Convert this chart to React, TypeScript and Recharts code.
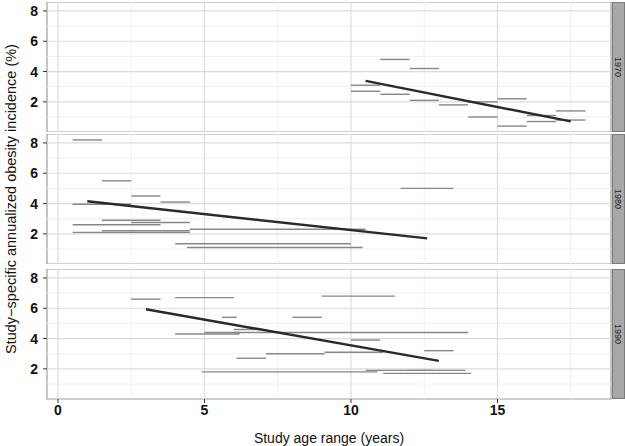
import React from "react";
import {
  ComposedChart,
  Line,
  XAxis,
  YAxis,
  ReferenceLine,
  ReferenceArea,
} from "recharts";

// study age ranges (start / end, years) and annualized incidence (%) per decade
const decades = ["1970", "1980", "1990"];

const starts1970 = [10, 10, 11, 11, 12, 12, 13, 14, 14, 15, 15, 16, 16, 17, 17];
const ends1970 = [11, 11, 12, 12, 13, 13, 14, 15, 15, 16, 16, 17, 17, 18, 18];
const incidence1970 = [3.1, 2.7, 4.8, 2.5, 4.2, 2.1, 1.8, 2.0, 1.0, 2.2, 0.4, 1.1, 0.7, 1.4, 0.8];

const starts1980 = [0.5, 1.5, 2.5, 3.5, 0.5, 1.5, 2.5, 0.5, 0.5, 1.5, 4.5, 4.0, 4.4, 11.7];
const ends1980 = [1.5, 2.5, 3.5, 4.5, 2.5, 3.5, 4.5, 3.5, 4.5, 4.5, 10.5, 10.0, 10.4, 13.5];
const incidence1980 = [8.2, 5.5, 4.5, 4.1, 3.95, 2.9, 2.75, 2.6, 2.1, 2.2, 2.3, 1.35, 1.1, 5.0];

const starts1990 = [2.5, 4.0, 9.0, 5.6, 8.0, 4.0, 5.0, 6.0, 6.0, 10.0, 12.5, 6.1, 7.1, 9.1, 4.9, 10.5, 11.9, 11.1];
const ends1990 = [3.5, 6.0, 11.5, 6.1, 9.0, 6.2, 6.2, 7.0, 14.0, 11.0, 13.5, 7.1, 9.1, 11.1, 10.9, 12.8, 13.9, 14.1];
const incidence1990 = [6.6, 6.7, 6.8, 5.4, 5.4, 4.3, 4.4, 4.6, 4.4, 3.9, 3.2, 2.7, 3.0, 3.1, 1.8, 1.9, 1.9, 1.7];

// fitted trend lines (age at ends, incidence at ends)
const fitAges = [[10.5, 17.5], [1.0, 12.6], [3.0, 13.0]];
const fitValues = [[3.38, 0.71], [4.15, 1.7], [5.93, 2.53]];

const xTicks = [0, 5, 10, 15];
const xMinor = [2.5, 7.5, 12.5, 17.5];
const yTicks = [2, 4, 6, 8];
const yMinor = [1, 3, 5, 7];

const X_DOMAIN: [number, number] = [-0.375, 18.875];
const Y_DOMAIN: [number, number] = [0.01, 8.59];

const allStarts = [starts1970, starts1980, starts1990];
const allEnds = [ends1970, ends1980, ends1990];
const allIncidence = [incidence1970, incidence1980, incidence1990];

const panelTops = [2, 134, 269];
const PLOT_H = 130;
const font = "'Liberation Sans', Arial, sans-serif";

function Panel({ idx }: { idx: number }) {
  const last = idx === decades.length - 1;
  const starts = allStarts[idx];
  const ends = allEnds[idx];
  const inc = allIncidence[idx];
  const fit = fitAges[idx].map((x, i) => ({ x, y: fitValues[idx][i] }));

  return (
    <div style={{ position: "absolute", left: 0, top: panelTops[idx] }}>
      <ComposedChart
        width={625}
        height={last ? PLOT_H + 47 : PLOT_H}
        margin={{ top: 0, right: 14, bottom: 0, left: 0 }}
      >
        <XAxis
          type="number"
          dataKey="x"
          domain={X_DOMAIN}
          allowDataOverflow
          ticks={xTicks}
          hide={!last}
          height={47}
          axisLine={false}
          tickSize={4}
          tickMargin={2}
          tickLine={{ stroke: "#333" }}
          tick={{ fill: "#111", fontSize: 14, fontWeight: "bold", fontFamily: font }}
          label={{
            value: "Study age range (years)",
            position: "insideBottom",
            offset: 3,
            style: { fill: "#111", fontSize: 14, fontFamily: font },
          }}
        />
        <YAxis
          type="number"
          domain={Y_DOMAIN}
          allowDataOverflow
          ticks={yTicks}
          width={47}
          axisLine={false}
          tickSize={4}
          tickMargin={5}
          tickLine={{ stroke: "#333" }}
          tick={{ fill: "#111", fontSize: 14, fontWeight: "bold", fontFamily: font }}
        />
        {yMinor.map((v) => (
          <ReferenceLine key={"ym" + v} y={v} stroke="#f0f0f0" strokeWidth={1} />
        ))}
        {xMinor.map((v) => (
          <ReferenceLine key={"xm" + v} x={v} stroke="#f0f0f0" strokeWidth={1} />
        ))}
        {yTicks.map((v) => (
          <ReferenceLine key={"yM" + v} y={v} stroke="#dcdcdc" strokeWidth={1.2} />
        ))}
        {xTicks.map((v) => (
          <ReferenceLine key={"xM" + v} x={v} stroke="#dcdcdc" strokeWidth={1.2} />
        ))}
        {starts.map((s, i) => (
          <Line
            key={"seg" + i}
            data={[
              { x: s, y: inc[i] },
              { x: ends[i], y: inc[i] },
            ]}
            dataKey="y"
            stroke="#878787"
            strokeWidth={1.4}
            dot={false}
            activeDot={false}
            isAnimationActive={false}
          />
        ))}
        <Line
          data={fit}
          dataKey="y"
          stroke="#2a2a2a"
          strokeWidth={2.4}
          dot={false}
          activeDot={false}
          isAnimationActive={false}
        />
        <ReferenceArea
          x1={X_DOMAIN[0]}
          x2={X_DOMAIN[1]}
          y1={Y_DOMAIN[0]}
          y2={Y_DOMAIN[1]}
          fill="none"
          stroke="#9e9e9e"
          strokeWidth={1.2}
        />
      </ComposedChart>
      <div
        style={{
          position: "absolute",
          left: 612,
          top: 0,
          width: 11,
          height: PLOT_H - 2,
          background: "#a8a8a8",
          border: "1px solid #7a7a7a",
          display: "flex",
          alignItems: "center",
          justifyContent: "center",
        }}
      >
        <span
          style={{
            transform: "rotate(90deg)",
            fontSize: 9,
            fontFamily: font,
            color: "#222",
            whiteSpace: "nowrap",
          }}
        >
          {decades[idx]}
        </span>
      </div>
    </div>
  );
}

export default function App() {
  return (
    <div
      style={{
        position: "absolute",
        left: 0,
        top: 0,
        width: 625,
        height: 446,
        background: "#fff",
        fontFamily: font,
        overflow: "hidden",
      }}
    >
      {decades.map((d, i) => (
        <Panel key={d} idx={i} />
      ))}
      <div
        style={{
          position: "absolute",
          left: 11,
          top: 199,
          transform: "translate(-50%, -50%) rotate(-90deg)",
          whiteSpace: "nowrap",
          fontSize: 14.5,
          color: "#111",
        }}
      >
        Study−specific annualized obesity incidence (%)
      </div>
    </div>
  );
}
